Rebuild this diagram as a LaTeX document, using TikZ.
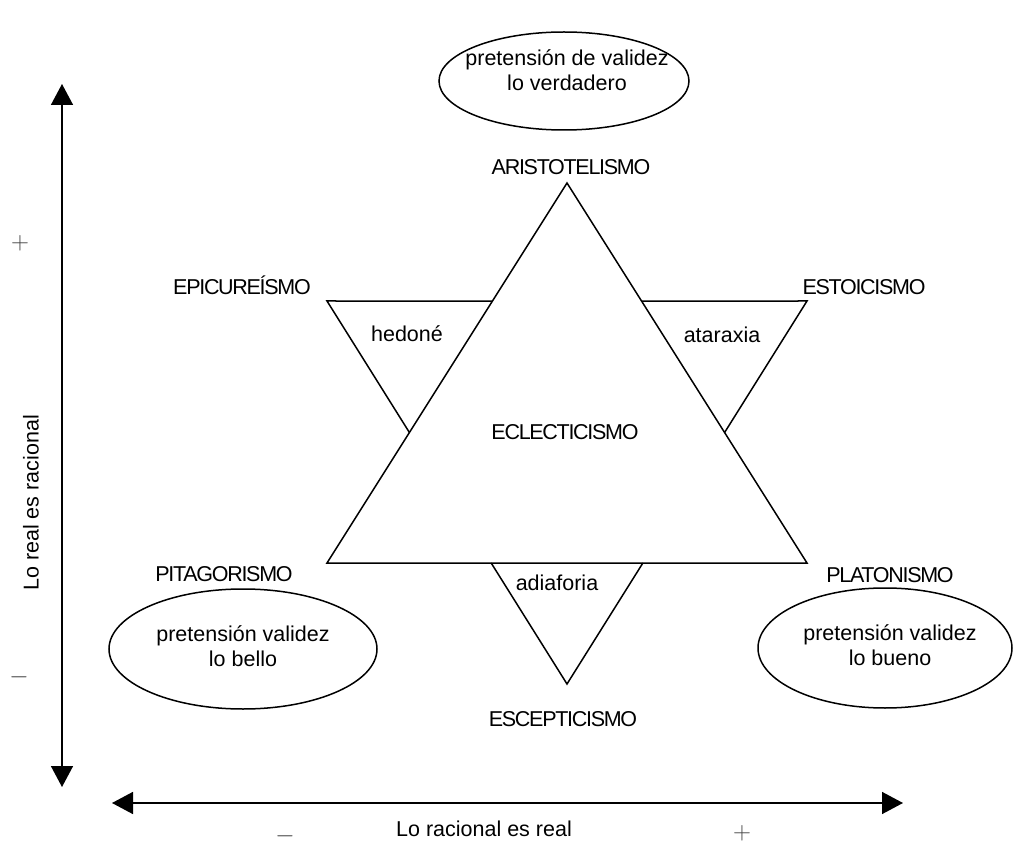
\documentclass[tikz,border=0pt]{standalone}
\usepackage{fontspec}
\setmainfont{Liberation Sans}
\usetikzlibrary{arrows.meta,shapes.geometric}

\begin{document}
\begin{tikzpicture}[x=1pt,y=-1pt,
            every node/.style={font=\fontsize{21.5}{25}\selectfont, inner sep=0pt},
            escuela/.style={font=\fontsize{21.5}{25}\selectfont\addfontfeature{LetterSpace=-6},
                text height=15.5pt, text depth=0pt},
            virtud/.style={text height=15.5pt, text depth=0pt},
            pretension/.style={align=center},
            burbuja/.style={draw, ellipse, line width=1.5pt},
            signo/.style={font=\fontsize{24}{24}\selectfont, text=black!75},
            linea/.style={line width=1.5pt},
            eje/.style={line width=1.5pt,
                {Triangle[length=21pt,width=22pt]}-{Triangle[length=21pt,width=22pt]}}]
    \useasboundingbox (0,0) rectangle (1013,845);

    % estrella
    \coordinate (A) at (567,183);
    \coordinate (B) at (327,563);
    \coordinate (C) at (807,563);
    \coordinate (D) at (327,301);
    \coordinate (E) at (807,301);
    \coordinate (F) at (567,684);
    \draw[linea] (A) -- (B) -- (C) -- cycle;
    \draw[linea] (intersection of A--B and D--E) -- (D) -- (intersection of A--B and D--F);
    \draw[linea] (intersection of A--C and D--E) -- (E) -- (intersection of A--C and E--F);
    \draw[linea] (intersection of B--C and D--F) -- (F) -- (intersection of B--C and E--F);

    \node[escuela] (aristotelismo) at (571,167) {ARISTOTELISMO};
    \node[escuela] (epicureismo) at (242,287) {EPICUREÍSMO};
    \node[escuela] (estoicismo) at (864,287) {ESTOICISMO};
    \node[escuela] (eclecticismo) at (565,432) {ECLECTICISMO};
    \node[escuela] (pitagorismo) at (224,574) {PITAGORISMO};
    \node[escuela] (platonismo) at (890,575) {PLATONISMO};
    \node[escuela] (escepticismo) at (563,719) {ESCEPTICISMO};
    \node[virtud] (hedone) at (407,334) {hedoné};
    \node[virtud] (ataraxia) at (722,335) {ataraxia};
    \node[virtud] (adiaforia) at (557,583) {adiaforia};

    \node[burbuja, minimum width=250pt, minimum height=98pt] (verdadero) at (564,81) {};
    \node[burbuja, minimum width=268pt, minimum height=120pt] (bello) at (243,649) {};
    \node[burbuja, minimum width=254pt, minimum height=120pt] (bueno) at (885,648) {};
    \node[pretension] (verdaderotxt) at (567,70) {pretensión de validez\\lo verdadero};
    \node[pretension] (bellotxt) at (243,646) {pretensión validez\\lo bello};
    \node[pretension] (buenotxt) at (890,645) {pretensión validez\\lo bueno};

    % ejes
    \coordinate (arriba) at (62,84);
    \coordinate (abajo) at (62,787);
    \coordinate (izq) at (112,803);
    \coordinate (der) at (903,803);
    \draw[eje] (arriba) -- (abajo);
    \draw[eje] (izq) -- (der);
    \node[rotate=90] (ejey) at (31,503) {Lo real es racional};
    \node (ejex) at (484,829) {Lo racional es real};
    \node[signo] (masy) at (20,243) {$+$};
    \node[signo] (menosy) at (19,677) {$-$};
    \node[signo] (menosx) at (285,836) {$-$};
    \node[signo] (masx) at (742,833) {$+$};
\end{tikzpicture}
\end{document}
